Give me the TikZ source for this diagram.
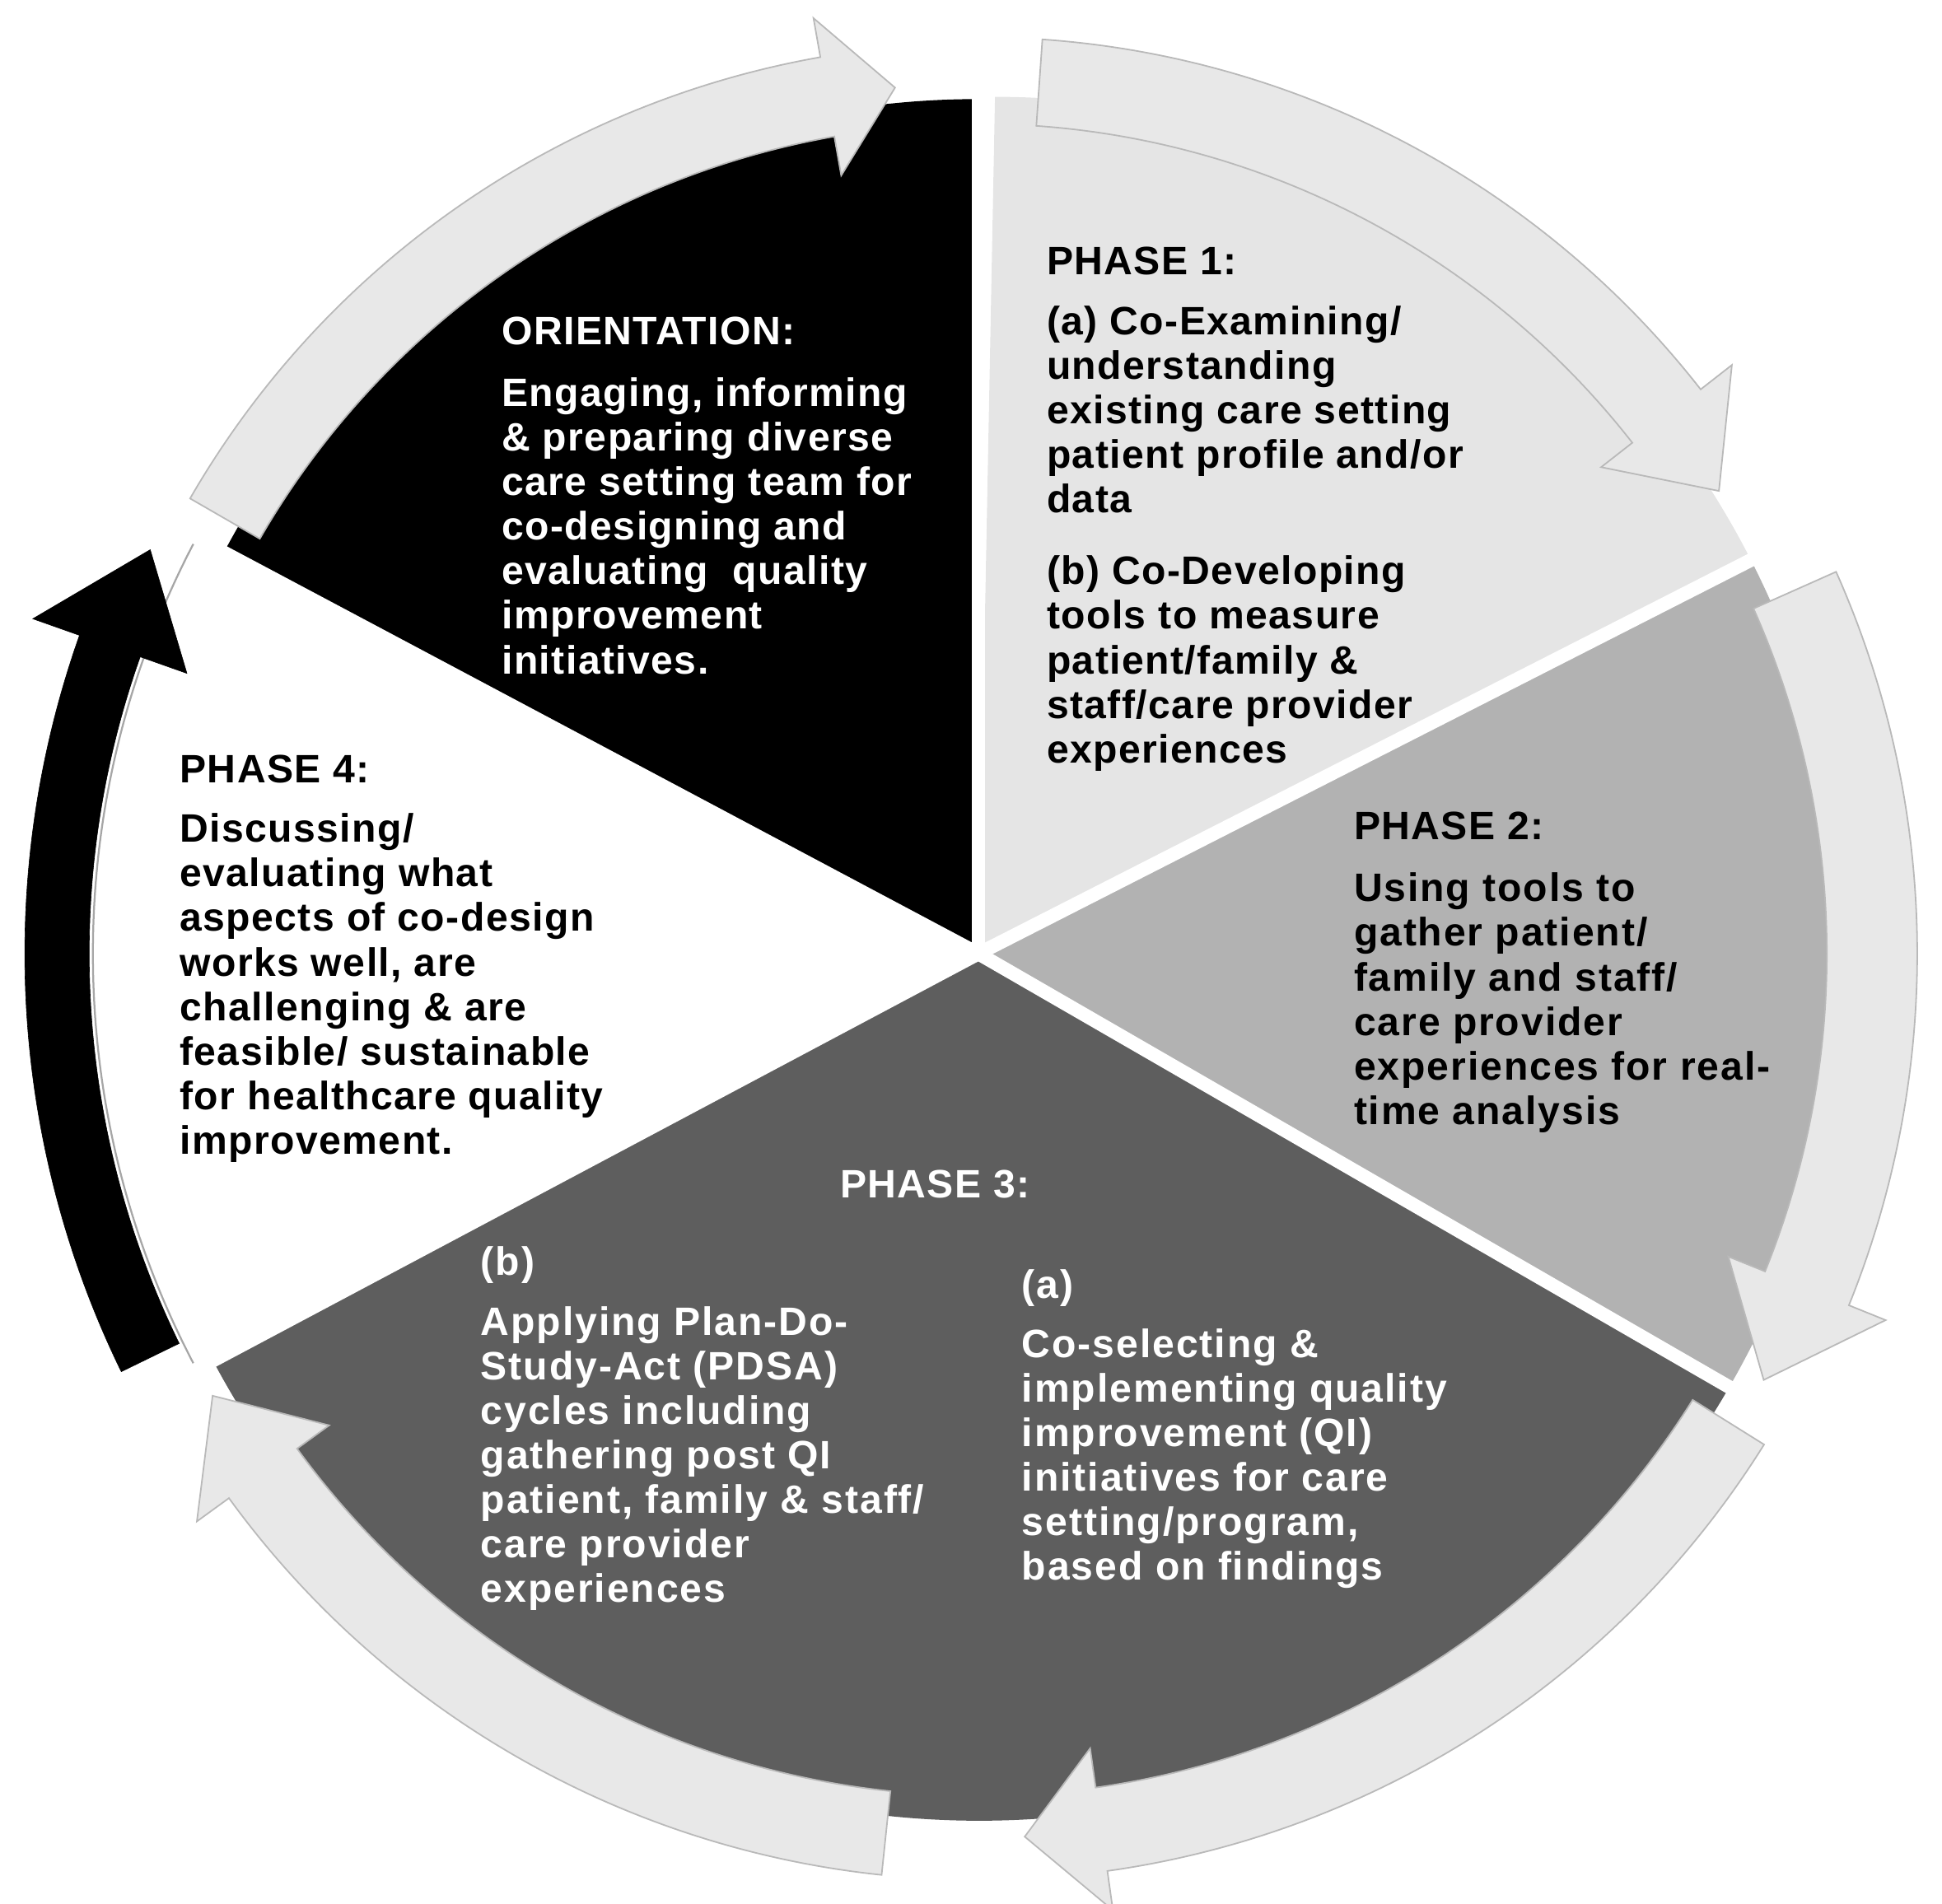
\documentclass[tikz,border=0pt]{standalone}
\usepackage{fontspec}
\setmainfont{Liberation Sans}[LetterSpace=3]
\newfontfamily\wide{Liberation Sans}[LetterSpace=4]
\begin{document}
\newcommand\carrow[7]{%
\pgfmathsetmacro\hbA{#3+#4}\pgfmathsetmacro\midR{(#5+#6)/2}%
\filldraw[#1] (#2:#6) arc[start angle=#2,end angle=\hbA,radius=#6] -- (\hbA:{#6+#7}) -- (#3:\midR) -- (\hbA:{#5-#7}) -- (\hbA:#5) arc[start angle=\hbA,end angle=#2,radius=#5] -- cycle;}
\begin{tikzpicture}[x=1pt,y=1pt,
  txt/.style={anchor=base west,align=left,font=\fontsize{32}{36}\selectfont\bfseries,inner sep=0pt},
  wtxt/.style={txt,font=\fontsize{32}{36}\selectfont\bfseries\wide},
  ga/.style={fill=gray!18,draw=gray!55,line width=1.2pt},
  ba/.style={fill=black,draw=black},
  gap/.style={white,line width=11pt}]
\useasboundingbox (0,0) rectangle (1568,-1537);
\begin{scope}[shift={(790,-770)}]
\fill[black] (0,0) -- (90:690) arc[start angle=90,end angle=152,radius=690] -- cycle;
\filldraw[fill=white,draw=gray!70,line width=1.5pt] (0,0) -- (152:715) arc[start angle=152,end angle=208,radius=715] -- cycle;
\fill[black!63] (0,0) -- (208:700) arc[start angle=208,end angle=330,radius=700] -- cycle;
\fill[black!30] (0,0) -- (-30:700) arc[start angle=-30,end angle=27,radius=700] -- cycle;
\fill[black!10] (0,0) -- (27:700) arc[start angle=27,end angle=90,radius=685] -- cycle;
\foreach \a in {90,27,-30,208,152} \draw[gap] (0,0) -- (\a:730);
\carrow{ga}{150}{95.5}{4.5}{670}{735}{32}
\carrow{ga}{86}{32}{6}{670}{740}{32}
\carrow{ga}{24}{-28.5}{6.5}{685}{758}{32}
\carrow{ga}{-32}{-87}{5}{680}{748}{32}
\carrow{ga}{-96}{-150}{6}{680}{748}{32}
\carrow{ba}{206}{154}{6.5}{718}{770}{40}
\end{scope}
\node[txt,white] (or) at (405,-278) {ORIENTATION:};
\node[txt,white] (ort) at (405,-544) {Engaging, informing\\\& preparing diverse\\care setting team for\\co-designing and\\evaluating\ \ quality\\improvement\\initiatives.};
\node[txt] (p1) at (845,-222) {PHASE 1:};
\node[txt] (p1a) at (845,-414) {(a) Co-Examining/\\understanding\\existing care setting\\patient profile and/or\\data};
\node[txt] (p1b) at (845,-616) {(b) Co-Developing\\tools to measure\\patient/family \&\\staff/care provider\\experiences};
\node[txt] (p4) at (145,-632) {PHASE 4:};
\node[txt] (p4t) at (145,-932) {Discussing/\\evaluating what\\aspects of co-design\\works well, are\\challenging \& are\\feasible/ sustainable\\for healthcare quality\\improvement.};
\node[txt] (p2) at (1093,-678) {PHASE 2:};
\node[wtxt] (p2t) at (1093,-908) {Using tools to\\gather patient/\\family and staff/\\care provider\\experiences for real-\\time analysis};
\node[txt,white,anchor=base] (p3) at (755,-967) {PHASE 3:};
\node[wtxt,white] (p3b) at (388,-1294) {(b)\\[12pt]Applying Plan-Do-\\Study-Act (PDSA)\\cycles including\\gathering post QI\\patient, family \& staff/\\care provider\\experiences};
\node[wtxt,white] (p3a) at (825,-1276) {(a)\\[12pt]Co-selecting \&\\implementing quality\\improvement (QI)\\initiatives for care\\setting/program,\\based on findings};
\end{tikzpicture}
\end{document}
